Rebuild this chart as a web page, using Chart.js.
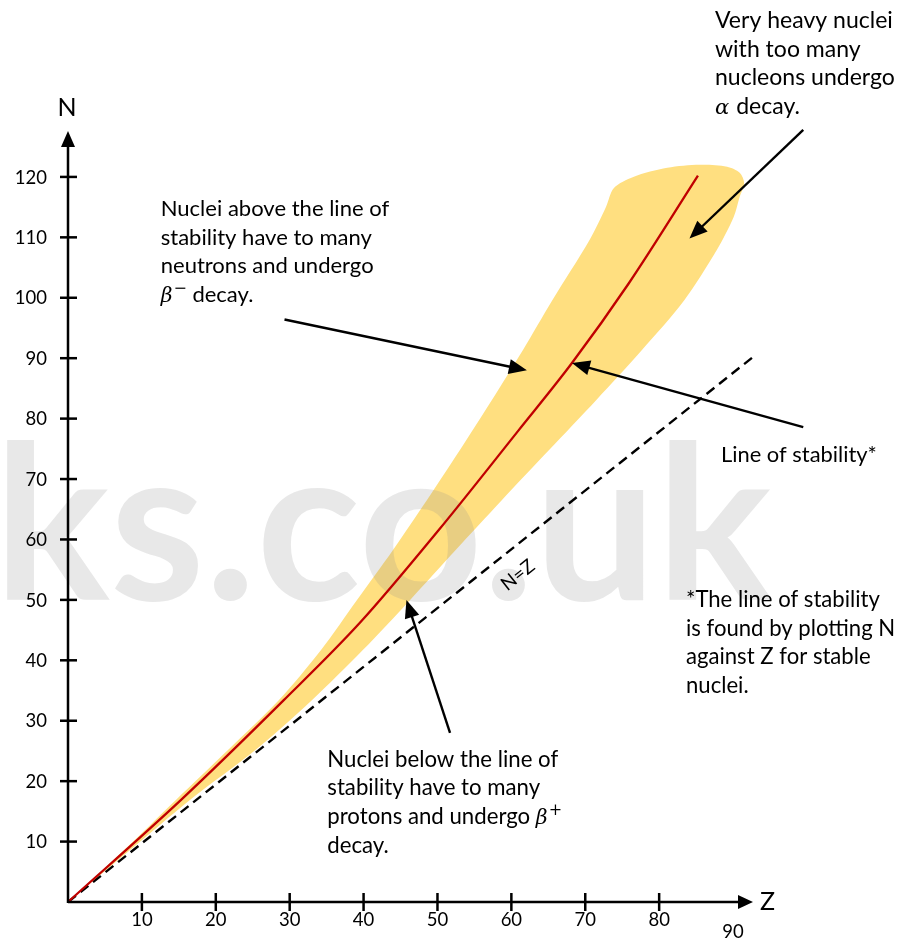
<!DOCTYPE html>
<html><head><meta charset="utf-8">
<script src="https://cdn.jsdelivr.net/npm/chart.js@4"></script>
<style>html,body{margin:0;padding:0;background:#fff;}canvas{display:block;}</style>
</head><body>
<canvas id="c" width="897" height="940"></canvas>
<script>
// ---------- data (Z = proton number, N = neutron number) ----------
const xTickValues = [10, 20, 30, 40, 50, 60, 70, 80];
const xExtraLabels = [90];
const yTickValues = [10, 20, 30, 40, 50, 60, 70, 80, 90, 100, 110, 120];

const stabilityZ = [0, 15.3, 29.2, 39.5, 50.2, 61.0, 68.2, 75.9, 85.25];
const stabilityN = [0, 16.9, 33.4, 46.2, 61.6, 78.1, 89.2, 102.4, 120.2];

const equalZ = [0, 92.6];
const equalN = [0, 90.1];

// outline of the band of stable nuclei (closed shape: upper edge, top lobe, lower edge)
const bandZ = [0, 7.6, 14.6, 21.65, 28.55, 34.24, 39.11, 43.98, 48.58, 53.04, 57.37, 61.57, 65.5, 70.6, 72.8, 73.88,
               76.5, 81.1, 85.5, 89.2, 90.9, 91.5, 90.9,
               90.1, 87.8, 83.4, 77.7, 71.5, 65.1, 58.7, 52.5, 46.3, 39.9, 33.0, 25.4, 16.5, 8.4, 0];
const bandN = [0, 8.6, 16.9, 25.16, 33.43, 41.71, 49.98, 58.26, 66.53, 74.81, 83.08, 91.36, 99.5, 109.6, 115.03, 118.17,
               120.0, 121.5, 122.0, 121.7, 120.7, 119.0, 116.7,
               113.4, 107.9, 99.6, 91.4, 83.1, 74.8, 66.5, 58.3, 50.0, 41.7, 33.4, 25.2, 16.9, 8.6, 0];

// annotation arrows: [Z0, N0, Z1, N1] (tail -> head)
const arrowA = [99.5, 127.8, 84.1, 109.8];
const arrowB = [29.3, 96.4, 62.1, 88.0];
const arrowC = [99.5, 78.6, 68.2, 89.2];
const arrowD = [51.7, 28.0, 45.8, 50.0];
const arrowList = [arrowA, arrowB, arrowC, arrowD];

const equalLabelPos = [60.9, 54.1];

const pts = (zs, ns) => zs.map((z, i) => ({x: z, y: ns[i]}));

const TXT = 'Lato, "Noto Sans", sans-serif';
const GREEK = '"DejaVu Serif", serif';

const notes = [
  {x: 715, y: 28, w: 178, lines: [['Very heavy nuclei'], ['with too many'], ['nucleons undergo'], [{g: 'α'}, ' decay.']]},
  {x: 160.7, y: 216, w: 228.6, lines: [['Nuclei above the line of'], ['stability have to many'], ['neutrons and undergo'], [{g: 'β', sup: '−'}, ' decay.']]},
  {x: 721, y: 462, w: 156, lines: [['Line of stability*']]},
  {x: 686, y: 607, w: 194, lines: [['*The line of stability'], ['is found by plotting N'], ['against Z for stable'], ['nuclei.']]},
  {x: 327.3, y: 766.7, w: 231, lines: [['Nuclei below the line of'], ['stability have to many'], ['protons and undergo ', {g: 'β', sup: '+'}], ['decay.']]}
];

function drawArrow(ctx, x1, y1, x2, y2, head, half) {
  const a = Math.atan2(y2 - y1, x2 - x1);
  const bx = x2 - head * Math.cos(a), by = y2 - head * Math.sin(a);
  ctx.beginPath(); ctx.moveTo(x1, y1); ctx.lineTo(bx + Math.cos(a) * 2, by + Math.sin(a) * 2); ctx.stroke();
  ctx.beginPath(); ctx.moveTo(x2, y2);
  ctx.lineTo(bx + half * Math.sin(a), by - half * Math.cos(a));
  ctx.lineTo(bx - half * Math.sin(a), by + half * Math.cos(a));
  ctx.closePath(); ctx.fill();
}

function drawRich(ctx, x, y, segs, size) {
  let cx = x;
  for (const s of segs) {
    if (typeof s === 'string') {
      ctx.font = size + 'px ' + TXT;
      ctx.fillText(s, cx, y); cx += ctx.measureText(s).width;
    } else {
      ctx.font = 'italic ' + (size * 0.92).toFixed(1) + 'px ' + GREEK;
      ctx.fillText(s.g, cx, y); cx += ctx.measureText(s.g).width + 1;
      if (s.sup) {
        ctx.font = (size * 0.72).toFixed(1) + 'px ' + GREEK;
        ctx.fillText(s.sup, cx, y - size * 0.42); cx += ctx.measureText(s.sup).width;
      }
    }
  }
}

const decor = {
  id: 'decor',
  afterDatasetDraw(chart, args) {
    if (args.index !== 0) return;
    const ctx = chart.ctx;
    ctx.save();
    ctx.font = 'bold 215px ' + TXT;
    ctx.fillStyle = 'rgba(140,140,140,0.2)';
    ctx.textBaseline = 'alphabetic';
    const t = 'ks.co.uk';
    const m = ctx.measureText(t).width;
    ctx.translate(-6, 600);
    ctx.scale(778 / m, 1);
    ctx.fillText(t, 0, 0);
    ctx.restore();
  },
  afterDatasetsDraw(chart) {
    const ctx = chart.ctx;
    const xs = chart.scales.x, ys = chart.scales.y;
    const X = v => xs.getPixelForValue(v), Y = v => ys.getPixelForValue(v);
    const x0 = X(0), y0 = Y(0);
    const area = chart.chartArea;
    ctx.save();
    ctx.strokeStyle = '#000'; ctx.fillStyle = '#000';
    ctx.lineWidth = 2.5; ctx.lineCap = 'butt';
    // axes
    ctx.beginPath(); ctx.moveTo(x0, y0); ctx.lineTo(area.right - 12, y0); ctx.stroke();
    ctx.beginPath(); ctx.moveTo(x0, y0 + 1); ctx.lineTo(x0, area.top + 12); ctx.stroke();
    ctx.beginPath(); ctx.moveTo(area.right, y0); ctx.lineTo(area.right - 15, y0 - 7); ctx.lineTo(area.right - 15, y0 + 7); ctx.closePath(); ctx.fill();
    ctx.beginPath(); ctx.moveTo(x0, area.top); ctx.lineTo(x0 - 7, area.top + 16); ctx.lineTo(x0 + 7, area.top + 16); ctx.closePath(); ctx.fill();
    // ticks
    for (const v of xTickValues) { const px = X(v); ctx.beginPath(); ctx.moveTo(px, y0 - 9); ctx.lineTo(px, y0 + 9); ctx.stroke(); }
    for (const v of yTickValues) { const py = Y(v); ctx.beginPath(); ctx.moveTo(x0 - 8, py); ctx.lineTo(x0 + 9, py); ctx.stroke(); }
    // tick labels
    const ts = 18.5;
    ctx.font = ts + 'px ' + TXT; ctx.textBaseline = 'alphabetic';
    ctx.textAlign = 'center';
    for (const v of xTickValues) ctx.fillText(String(v), X(v), y0 + 17 + ts * 0.36);
    for (const v of xExtraLabels) ctx.fillText(String(v), X(v), y0 + 29 + ts * 0.36);
    ctx.textAlign = 'right';
    for (const v of yTickValues) ctx.fillText(String(v), x0 - 21, Y(v) + ts * 0.36);
    // axis titles
    ctx.font = '25px ' + TXT;
    ctx.textAlign = 'center'; ctx.fillText('N', x0 - 1, area.top - 15);
    ctx.textAlign = 'left'; ctx.fillText('Z', area.right + 7, y0 + 8);
    // N=Z label
    ctx.save();
    const ang = Math.atan2(Y(equalN[1]) - Y(equalN[0]), X(equalZ[1]) - X(equalZ[0]));
    ctx.translate(X(equalLabelPos[0]), Y(equalLabelPos[1]));
    ctx.rotate(ang);
    ctx.font = '19px ' + TXT; ctx.textAlign = 'center'; ctx.textBaseline = 'middle';
    ctx.fillText('N=Z', 0, 0);
    ctx.restore();
    // arrows
    ctx.lineWidth = 2.4;
    for (const a of arrowList) drawArrow(ctx, X(a[0]), Y(a[1]), X(a[2]), Y(a[3]), 18, 7.5);
    // notes
    ctx.textAlign = 'left'; ctx.textBaseline = 'alphabetic';
    for (const n of notes) {
      ctx.font = '20px ' + TXT;
      const first = n.lines[0].filter(s => typeof s === 'string').join('');
      const size = 20 * n.w / ctx.measureText(first).width;
      n.lines.forEach((segs, i) => drawRich(ctx, n.x, n.y + i * 28.6, segs, size));
    }
    ctx.restore();
  }
};

new Chart(document.getElementById('c'), {
  type: 'scatter',
  data: {
    datasets: [
      {label: 'band', data: pts(bandZ, bandN), showLine: true, borderWidth: 0, borderColor: 'rgba(0,0,0,0)',
       backgroundColor: '#FFDF80', fill: 'shape', tension: 0.3, pointRadius: 0, order: 3},
      {label: 'N=Z', data: pts(equalZ, equalN), showLine: true, borderColor: '#000', borderWidth: 2.4,
       borderDash: [10, 6], pointRadius: 0, fill: false, order: 2},
      {label: 'line of stability', data: pts(stabilityZ, stabilityN), showLine: true, borderColor: '#C00000',
       borderWidth: 2.3, pointRadius: 0, fill: false, tension: 0.4, cubicInterpolationMode: 'monotone', order: 1}
    ]
  },
  options: {
    responsive: false, animation: false, devicePixelRatio: 1, events: [],
    layout: {padding: {left: 68, right: 144, top: 131, bottom: 38}},
    scales: {
      x: {type: 'linear', min: 0, max: 92.7, display: false},
      y: {type: 'linear', min: 0, max: 127.6, display: false}
    },
    plugins: {legend: {display: false}, tooltip: {enabled: false}}
  },
  plugins: [decor]
});
</script>
</body></html>
